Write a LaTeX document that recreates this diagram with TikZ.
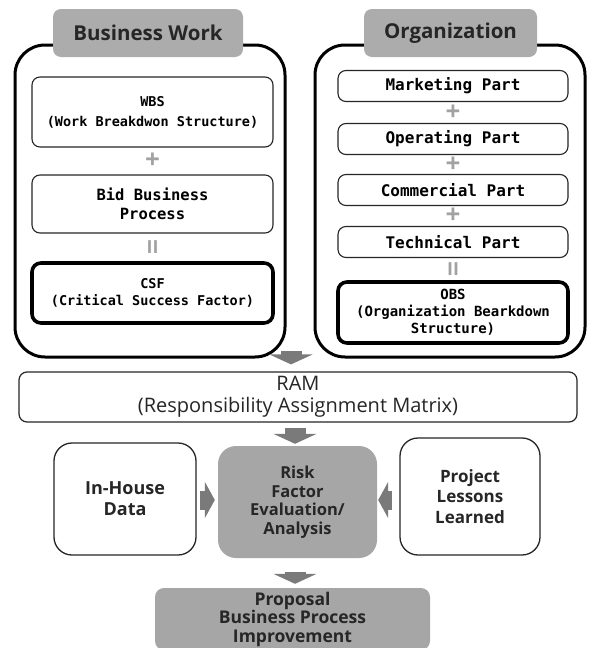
\documentclass[tikz,border=0pt]{standalone}
\usepackage{fontspec}
\setmainfont{Open Sans}
\newfontfamily\gulimfont{DejaVu Sans Mono}
\usepackage{tikz}
\usetikzlibrary{calc,positioning,arrows.meta}
\definecolor{headgray}{RGB}{172,172,172}
\definecolor{riskgray}{RGB}{166,166,166}
\definecolor{arrowgray}{RGB}{122,122,122}
\definecolor{markgray}{RGB}{162,162,162}
\definecolor{inkgray}{RGB}{38,38,38}
\tikzset{
    outerbox/.style={
        rectangle,
        rounded corners=30pt,
        draw=black, line width=3pt
    },
    headbox/.style={
        rectangle,
        rounded corners=8pt,
        fill=headgray,
        text=inkgray,
        minimum height=48pt,
        font={\fontsize{20.5pt}{24pt}\selectfont\bfseries}
    },
    partbox/.style={
        rectangle,
        rounded corners=8pt,
        draw=black!85, line width=1.1pt,
        fill=white,
        inner sep=0pt,
        align=center,
        font={\gulimfont\bfseries\fontsize{16pt}{19pt}\selectfont}
    },
    keybox/.style={
        partbox,
        rounded corners=9pt,
        draw=black, line width=3.6pt
    },
    sourcebox/.style={
        rectangle,
        rounded corners=18pt,
        draw=black!85, line width=1.3pt,
        align=center,
        text=inkgray,
        font={\fontsize{18pt}{21pt}\selectfont\bfseries}
    },
    graybox/.style={
        rectangle,
        fill=riskgray,
        align=center,
        text=inkgray,
        font={\fontsize{16.5pt}{18.5pt}\selectfont\bfseries}
    },
    plusmark/.style={text=markgray, inner sep=0pt,
        font={\fontsize{26pt}{26pt}\selectfont\bfseries}},
    equalmark/.style={text=markgray, inner sep=0pt,
        font={\fontsize{18pt}{18pt}\selectfont\bfseries}},
    blockarrow/.style={draw=arrowgray, line width=21pt,
        -{Triangle[length=10pt, width=43pt]}},
    sidearrow/.style={draw=arrowgray, line width=19pt,
        -{Triangle[length=10pt, width=36pt]}},
}

\begin{document}
\begin{tikzpicture}[x=1pt, y=-1pt]
    \useasboundingbox (0,0) rectangle (589,648);
    \clip (0,0) rectangle (589,648);
    \fill[white] (0,0) rectangle (589,648);

    % business work column
    \node[outerbox, minimum width=270pt, minimum height=312pt] (work) at (150,201) {};
    \node[headbox, minimum width=190pt] (workhead) at (148,33) {Business Work};
    \node[partbox, minimum width=241pt, minimum height=70pt,
        font={\gulimfont\bfseries\fontsize{13.5pt}{20pt}\selectfont}] (wbs) at (152.5,112)
        {WBS\\(Work Breakdwon Structure)};
    \node[partbox, minimum width=241pt, minimum height=58pt,
        font={\gulimfont\bfseries\fontsize{15.5pt}{19pt}\selectfont}] (bid) at (152.5,204)
        {Bid Business\\Process};
    \node[keybox, minimum width=241pt, minimum height=60pt,
        font={\gulimfont\bfseries\fontsize{13.5pt}{17pt}\selectfont}] (csf) at (152.5,293)
        {CSF\\(Critical Success Factor)};
    \node[plusmark] (wplus) at ($(wbs.south)!0.5!(bid.north)$) {+};
    \node[equalmark] (wequal) at ($(bid.south)!0.5!(csf.north)$) {II};

    % organization column
    \node[outerbox, minimum width=270pt, minimum height=312pt] (org) at (450,201) {};
    \node[headbox, minimum width=173pt] (orghead) at (450.5,33) {Organization};
    \node[partbox, minimum width=230pt, minimum height=31pt] (marketing) at (453,86) {Marketing Part};
    \node[partbox, minimum width=230pt, minimum height=31pt] (operating) at (453,139) {Operating Part};
    \node[partbox, minimum width=230pt, minimum height=31pt] (commercial) at (453,190) {Commercial Part};
    \node[partbox, minimum width=230pt, minimum height=31pt] (technical) at (453,242) {Technical Part};
    \node[keybox, minimum width=230pt, minimum height=61pt,
        font={\gulimfont\bfseries\fontsize{14pt}{17pt}\selectfont}] (obs) at (453,312.5)
        {OBS\\(Organization Bearkdown\\Structure)};
    \node[plusmark] (oplus1) at ($(marketing.south)!0.5!(operating.north)$) {+};
    \node[plusmark] (oplus2) at ($(operating.south)!0.5!(commercial.north)$) {+};
    \node[plusmark] (oplus3) at ($(commercial.south)!0.5!(technical.north)$) {+};
    \node[equalmark] (oequal) at ($(technical.south)!0.5!(obs.north)$) {II};

    % matrix and evaluation
    \node[rectangle, rounded corners=8pt, draw=black!85, line width=1.2pt,
        minimum width=558pt, minimum height=50pt, align=center, text=inkgray,
        font={\fontsize{20pt}{22pt}\selectfont}] (ram) at (298,397)
        {RAM\\(Responsibility Assignment Matrix)};
    \node[sourcebox, minimum width=142pt, minimum height=112pt] (inhouse) at (125,499) {In-House\\Data};
    \node[graybox, rounded corners=18pt, minimum width=159pt, minimum height=112pt] (risk) at (297.5,502)
        {Risk\\Factor\\Evaluation/\\Analysis};
    \node[sourcebox, minimum width=140pt, minimum height=117pt,
        font={\fontsize{17pt}{20.5pt}\selectfont\bfseries}] (project) at (470,496.5)
        {Project\\Lessons\\Learned};
    \node[graybox, rounded corners=9pt, minimum width=275pt, minimum height=62pt,
        font={\fontsize{17.5pt}{18.5pt}\selectfont\bfseries}] (proposal) at (292.5,619)
        {Proposal\\Business Process\\Improvement};

    \coordinate (merge) at (291,351);
    \draw[blockarrow, shorten >=7pt] (merge) -- (merge |- ram.north);
    \draw[blockarrow, shorten <=5pt, shorten >=2pt] (ram.south -| 295,0) -- (risk.north -| 295,0);
    \draw[blockarrow, shorten <=14pt, shorten >=4pt] (risk.south -| 295,0) -- (proposal.north -| 295,0);
    \draw[sidearrow, shorten <=3pt, shorten >=3pt] (inhouse.east |- 0,500) -- (risk.west |- 0,500);
    \draw[sidearrow, shorten <=7pt, shorten >=1pt] (project.west |- 0,500) -- (risk.east |- 0,500);
\end{tikzpicture}
\end{document}
